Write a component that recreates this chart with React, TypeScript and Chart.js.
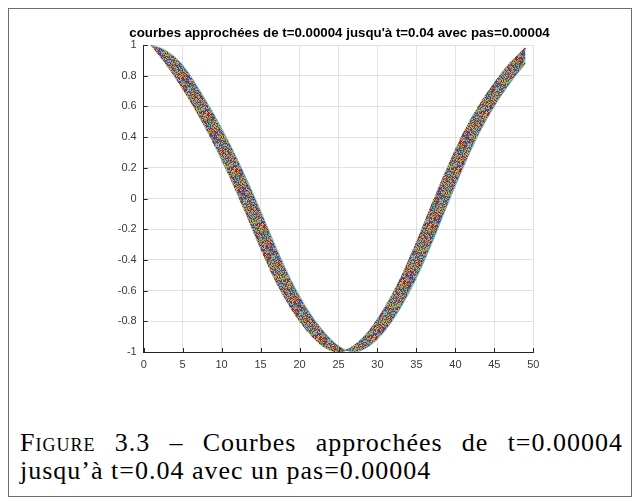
import React, { useEffect, useRef } from "react";
import { Chart, registerables } from "chart.js";

Chart.register(...registerables);

// ---- data ----
const xPositions = [1, 3, 5, 7, 9, 11, 13, 15, 17, 19, 21, 23, 25, 27, 29, 31, 33, 35, 37, 39, 41, 43, 45, 47, 49];
// left edge of the band of curves (earliest curve)
const leadingCurve = [1.0, 0.87, 0.72, 0.55, 0.36, 0.15, -0.08, -0.32, -0.54, -0.72, -0.86, -0.96, -1.0, -0.96, -0.86, -0.71, -0.52, -0.29, -0.04, 0.2, 0.42, 0.6, 0.75, 0.88, 0.98];
// right edge of the band of curves (latest curve)
const trailingCurve = [1.0, 0.96, 0.87, 0.72, 0.55, 0.36, 0.15, -0.08, -0.32, -0.54, -0.72, -0.86, -0.96, -1.0, -0.96, -0.86, -0.71, -0.52, -0.29, -0.04, 0.2, 0.42, 0.6, 0.75, 0.88];

const xTickValues = [0, 5, 10, 15, 20, 25, 30, 35, 40, 45, 50];
const xTickLabels = ["0", "5", "10", "15", "20", "25", "30", "35", "40", "45", "50"];
const yTickValues = [-1, -0.8, -0.6, -0.4, -0.2, 0, 0.2, 0.4, 0.6, 0.8, 1];
const yTickLabels = ["-1", "-0.8", "-0.6", "-0.4", "-0.2", "0", "0.2", "0.4", "0.6", "0.8", "1"];

const plotTitle = "courbes approchées de t=0.00004 jusqu'à t=0.04 avec pas=0.00004";
const captionLabel = "Figure 3.3";
const captionLine1 = "Courbes approchées de t=0.00004";
const captionLine2 = "jusqu’à t=0.04 avec un pas=0.00004";

// ---- style ----
const PALETTE = ["#0072BD", "#D95319", "#EDB120", "#7E2F8E", "#77AC30", "#4DBEEE", "#A2142F"];

function makePattern(ctx: CanvasRenderingContext2D) {
  const n = 7;
  const size = 28;
  const c = document.createElement("canvas");
  c.width = size;
  c.height = size;
  const g = c.getContext("2d")!;
  for (let i = 0; i < size; i++) {
    for (let j = 0; j < size; j++) {
      const k = (i + 3 * j + ((i * j) >> 3) + ((i >> 1) % 2) + ((j >> 2) % 3)) % n;
      g.fillStyle = PALETTE[k];
      g.fillRect(i, j, 1, 1);
    }
  }
  return ctx.createPattern(c, "repeat")!;
}

const overlayPlugin = {
  id: "overlay",
  afterDraw(chart: any) {
    const { ctx, chartArea, scales } = chart;
    ctx.save();
    ctx.strokeStyle = "#262626";
    ctx.lineWidth = 1;
    scales.x.ticks.forEach((t: any) => {
      const px = Math.round(scales.x.getPixelForValue(t.value)) + 0.5;
      ctx.beginPath();
      ctx.moveTo(px, chartArea.bottom);
      ctx.lineTo(px, chartArea.bottom - 4);
      ctx.stroke();
    });
    scales.y.ticks.forEach((t: any) => {
      const py = Math.round(scales.y.getPixelForValue(t.value)) + 0.5;
      ctx.beginPath();
      ctx.moveTo(chartArea.left, py);
      ctx.lineTo(chartArea.left + 4, py);
      ctx.stroke();
    });
    ctx.font = 'bold 13.3px "Liberation Sans", Arial, sans-serif';
    ctx.fillStyle = "#000";
    ctx.textAlign = "center";
    ctx.textBaseline = "alphabetic";
    ctx.fillText(plotTitle, (chartArea.left + chartArea.right) / 2 + 1, chartArea.top - 8);
    ctx.restore();
  },
};

export default function App() {
  const canvasRef = useRef<HTMLCanvasElement | null>(null);

  useEffect(() => {
    const canvas = canvasRef.current!;
    const ctx = canvas.getContext("2d")!;
    const pattern = makePattern(ctx);
    const tickFont = { family: '"Liberation Sans", Arial, sans-serif', size: 11 };

    const chart = new Chart(ctx, {
      type: "line",
      data: {
        datasets: [
          {
            data: xPositions.map((x, i) => ({ x, y: leadingCurve[i] })),
            borderColor: pattern,
            borderWidth: 1.5,
            pointRadius: 0,
            fill: false,
            cubicInterpolationMode: "monotone",
          },
          {
            data: xPositions.map((x, i) => ({ x, y: trailingCurve[i] })),
            borderColor: "rgba(77,190,238,0.75)",
            borderWidth: 1,
            pointRadius: 0,
            backgroundColor: pattern,
            fill: "-1",
            cubicInterpolationMode: "monotone",
          },
        ],
      },
      options: {
        animation: false,
        responsive: false,
        devicePixelRatio: 1,
        layout: { padding: { top: 36, right: 97.7, bottom: 27, left: 0 } },
        plugins: { legend: { display: false }, tooltip: { enabled: false }, title: { display: false } },
        scales: {
          x: {
            type: "linear",
            min: 0,
            max: 50,
            afterBuildTicks: (s: any) => {
              s.ticks = xTickValues.map((v) => ({ value: v }));
            },
            afterFit: (s: any) => {
              s.height = 20;
            },
            ticks: {
              autoSkip: false,
              maxRotation: 0,
              padding: 6,
              color: "#3a3a3a",
              font: tickFont,
              callback: (_v: any, i: number) => xTickLabels[i],
            },
            grid: { color: "#e2e2e2", drawTicks: false },
            border: { display: true, color: "#262626", width: 1 },
          },
          y: {
            type: "linear",
            min: -1,
            max: 1,
            afterBuildTicks: (s: any) => {
              s.ticks = yTickValues.map((v) => ({ value: v }));
            },
            afterFit: (s: any) => {
              s.width = 134.7;
            },
            ticks: {
              autoSkip: false,
              padding: 7,
              color: "#3a3a3a",
              font: tickFont,
              callback: (_v: any, i: number) => yTickLabels[i],
            },
            grid: { color: "#e2e2e2", drawTicks: false },
            border: { display: true, color: "#262626", width: 1 },
          },
        },
      },
      plugins: [overlayPlugin],
    } as any);

    return () => chart.destroy();
  }, []);

  const serif = '"Liberation Serif", "DejaVu Serif", serif';
  const captionStyle: React.CSSProperties = {
    position: "absolute",
    left: 11,
    fontFamily: serif,
    fontSize: 26,
    lineHeight: "30px",
    letterSpacing: "1px",
    whiteSpace: "nowrap",
    color: "#000",
  };
  return (
    <div
      style={{
        position: "relative",
        width: 622,
        height: 487,
        border: "1px solid #6e6e6e",
        boxShadow: "1px 1px 0 #9a9a9a",
        background: "#fff",
      }}
    >
      <canvas ref={canvasRef} width={622} height={390} style={{ position: "absolute", left: 0, top: 0, width: 622, height: 390 }} />
      <div
        style={{
          ...captionStyle,
          top: 419,
          width: 603,
          whiteSpace: "normal",
          textAlign: "justify",
          textAlignLast: "justify",
        }}
      >
        <span style={{ fontVariant: "small-caps" }}>{captionLabel}</span> – {captionLine1}
      </div>
      <div style={{ ...captionStyle, top: 447 }}>{captionLine2}</div>
    </div>
  );
}
